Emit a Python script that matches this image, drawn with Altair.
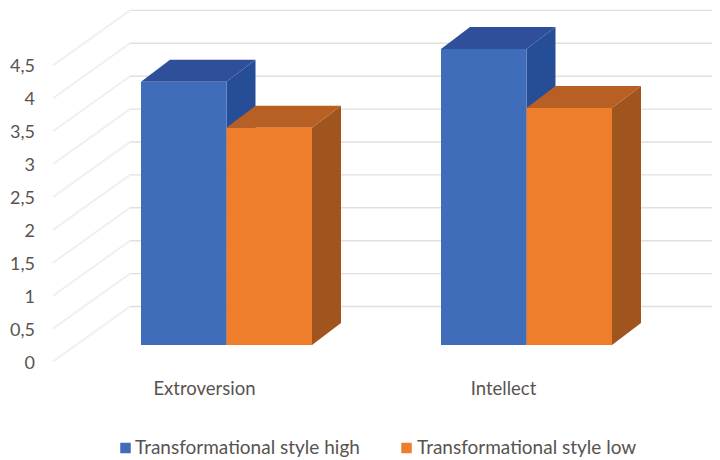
import altair as alt
import pandas as pd

categories = ["Extroversion", "Intellect"]
series = ["Transformational style high", "Transformational style low"]
values_high = [4.0, 4.5]
values_low = [3.3, 3.6]
tick_values = [0, 0.5, 1, 1.5, 2, 2.5, 3, 3.5, 4, 4.5]
tick_labels = ["0", "0,5", "1", "1,5", "2", "2,5", "3", "3,5", "4", "4,5"]

front_colors = ["#3F6DB9", "#EE7D2C"]
top_colors = ["#2F4F9A", "#B85F24"]
side_colors = ["#264E97", "#A0551F"]
GRID = "#E6DEDA"
DIAG = "#F2EFEC"
TEXT = "#595350"
FONT = "Lato"

# layout (x scale runs in page pixels; y scale in data units)
UNIT = 65.8
W, H = 704, 451
Y0_PLOT = 337
GROUP_LEFT = [141, 441]
BAR_W = 85.5
DX, DY = 29, 22 / UNIT
WALL_X = 130
AXIS_X = 53
FRONT_SHIFT = 55 / UNIT * 0.3   # axis labels sit below the bars' front plane
BACK_SHIFT = 55 / UNIT * 0.7    # back wall sits above it
TEXT_NUDGE = 2 / UNIT
LEGEND_SYMBOL_X = [125.5, 406.5]
LEGEND_TEXT_X = [135, 417]
LEGEND_Y = -103 / UNIT

xscale = alt.Scale(domain=[8, 8 + W], nice=False, zero=False)
yscale = alt.Scale(domain=[(Y0_PLOT - H) / UNIT, Y0_PLOT / UNIT], nice=False, zero=False)
cscale = alt.Scale(domain=series, range=front_colors)
X = lambda f="x": alt.X(f"{f}:Q", scale=xscale, axis=None)
Y = lambda f="y": alt.Y(f"{f}:Q", scale=yscale, axis=None)
COLOR = alt.Color("series:N", scale=cscale, legend=None)

layers = []

# back wall lines and side wall diagonals
grid_df = pd.DataFrame({"x": [WALL_X] * len(tick_values), "x2": [8 + W] * len(tick_values),
                        "y": [v + BACK_SHIFT for v in tick_values]})
layers.append(alt.Chart(grid_df).mark_rule(color=GRID, strokeWidth=1.4).encode(
    x=X(), x2="x2:Q", y=Y()))

diag_rows = []
for v in tick_values:
    diag_rows.append({"x": AXIS_X, "y": v - FRONT_SHIFT, "k": v})
    diag_rows.append({"x": WALL_X, "y": v + BACK_SHIFT, "k": v})
layers.append(alt.Chart(pd.DataFrame(diag_rows)).mark_line(color=DIAG, strokeWidth=2).encode(
    x=X(), y=Y(), detail="k:N"))

# bars, drawn back to front
for c, (cat, left) in enumerate(zip(categories, GROUP_LEFT)):
    for s, vals in enumerate([values_high, values_low]):
        v = vals[c]
        x0 = left + s * BAR_W
        x1 = x0 + BAR_W
        top = pd.DataFrame({"x": [x0, x0 + DX, x1, x1 + DX],
                            "y": [v, v + DY, v + DY, v + DY],
                            "y2": [v, v, v, v + DY]})
        side = pd.DataFrame({"x": [x1, x1 + DX], "y": [v, v + DY], "y2": [0, DY]})
        layers.append(alt.Chart(side).mark_area(color=side_colors[s]).encode(x=X(), y=Y(), y2="y2:Q"))
        layers.append(alt.Chart(top).mark_area(color=top_colors[s]).encode(x=X(), y=Y(), y2="y2:Q"))
        front = pd.DataFrame({"x": [x0], "x2": [x1], "y": [v], "y2": [0], "series": [series[s]]})
        layers.append(alt.Chart(front).mark_rect().encode(
            x=X(), x2="x2:Q", y=Y(), y2="y2:Q", color=COLOR))

# axis and category labels
tick_df = pd.DataFrame({"x": [35] * len(tick_values),
                        "y": [v - FRONT_SHIFT - TEXT_NUDGE for v in tick_values],
                        "t": tick_labels})
layers.append(alt.Chart(tick_df).mark_text(align="right", baseline="middle", font=FONT, fontSize=18,
                                           color=TEXT).encode(x=X(), y=Y(), text="t:N"))
cat_df = pd.DataFrame({"x": [GROUP_LEFT[0] + 63.5, GROUP_LEFT[1] + 62.5],
                       "y": [-44 / UNIT] * 2, "t": categories})
layers.append(alt.Chart(cat_df).mark_text(align="center", baseline="middle", font=FONT, fontSize=18.5,
                                          color=TEXT).encode(x=X(), y=Y(), text="t:N"))

# legend
sym_df = pd.DataFrame({"x": LEGEND_SYMBOL_X, "y": [LEGEND_Y] * 2, "series": series})
layers.append(alt.Chart(sym_df).mark_square(size=110, opacity=1).encode(x=X(), y=Y(), color=COLOR))
leg_df = pd.DataFrame({"x": LEGEND_TEXT_X, "y": [LEGEND_Y] * 2, "t": series})
layers.append(alt.Chart(leg_df).mark_text(align="left", baseline="middle", font=FONT, fontSize=19,
                                          color=TEXT).encode(x=X(), y=Y(), text="t:N"))

chart = alt.layer(*layers).properties(
    width=W, height=H, padding=0, autosize=alt.AutoSizeParams(type="none"), background="white"
).configure_view(stroke=None)

chart.save("out.html", embed_options={"renderer": "svg", "actions": False})
